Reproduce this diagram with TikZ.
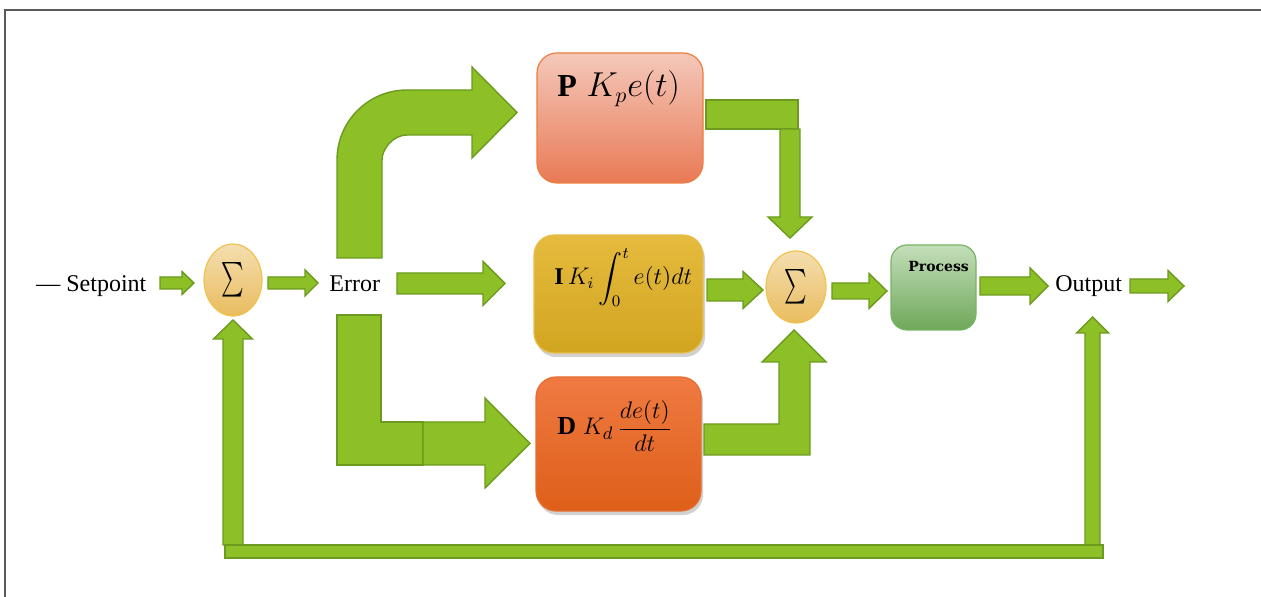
\documentclass[tikz,border=0pt]{standalone}
\usepackage{graphicx}
\usepackage{amsmath}
\usepackage{fontspec}
\setmainfont{Liberation Serif}
\newfontfamily\procfont{DejaVu Serif}
\usetikzlibrary{shapes.geometric,shadows}
\definecolor{gfill}{RGB}{141,192,38}
\definecolor{gline}{RGB}{107,154,31}
\definecolor{ptop}{RGB}{244,200,186}
\definecolor{pbot}{RGB}{233,122,85}
\definecolor{pline}{RGB}{237,125,60}
\definecolor{itop}{RGB}{229,187,62}
\definecolor{ibot}{RGB}{210,165,32}
\definecolor{iline}{RGB}{232,190,80}
\definecolor{dtop}{RGB}{240,122,66}
\definecolor{dbot}{RGB}{221,95,25}
\definecolor{dline}{RGB}{230,110,50}
\definecolor{prtop}{RGB}{196,222,186}
\definecolor{prbot}{RGB}{110,168,90}
\definecolor{prline}{RGB}{120,180,100}
\definecolor{sumtop}{RGB}{244,222,175}
\definecolor{sumbot}{RGB}{233,188,95}
\definecolor{sumline}{RGB}{240,195,80}
\definecolor{framec}{RGB}{90,90,90}
% right-pointing block arrow: x1, xtip, yc, shaft half, head half, head length
\newcommand{\rarr}[6]{\draw[garrow] (#1,#3-#4) -- (#2-#6,#3-#4) -- (#2-#6,#3-#5) -- (#2,#3) -- (#2-#6,#3+#5) -- (#2-#6,#3+#4) -- (#1,#3+#4) -- cycle;}
% up-pointing block arrow: xc, ybottom, ytip, shaft half, head half, head length
\newcommand{\uarr}[6]{\draw[garrow] (#1-#4,#2) -- (#1-#4,#3+#6) -- (#1-#5,#3+#6) -- (#1,#3) -- (#1+#5,#3+#6) -- (#1+#4,#3+#6) -- (#1+#4,#2) -- cycle;}
\newcommand{\sumsign}{{\fontsize{16}{16}\selectfont\scalebox{0.62}[1]{$\textstyle\sum$}}}
\begin{document}
\begin{tikzpicture}[x=0.5pt,y=-0.5pt,
  garrow/.style={fill=gfill,draw=gline,line width=0.7pt,line join=miter},
  blk/.style={rectangle,rounded corners=10pt,line width=0.6pt,inner sep=0pt},
  shad/.style={drop shadow={shadow xshift=1pt,shadow yshift=-2pt,fill=black,opacity=0.18}},
  sumnode/.style={ellipse,inner sep=0pt,top color=sumtop,bottom color=sumbot,draw=sumline,line width=0.6pt},
  lbl/.style={font=\fontsize{12}{14}\selectfont,inner sep=0pt,anchor=base west},
  frm/.style={inner sep=0pt,anchor=base west},
]
\useasboundingbox (0,0) rectangle (1261,597);
% frame
\draw[framec,line width=0.8pt] (1261,10) -- (5,10) -- (5,597);

% blocks
\node[blk,top color=ptop,bottom color=pbot,draw=pline,minimum width=83pt,minimum height=65pt] (P) at (620,118) {};
\node[blk,shad,top color=itop,bottom color=ibot,draw=iline,minimum width=84.5pt,minimum height=59pt] (I) at (618.5,294) {};
\node[blk,shad,top color=dtop,bottom color=dbot,draw=dline,minimum width=82.5pt,minimum height=67pt] (D) at (618.5,444) {};
\node[blk,rounded corners=8pt,top color=prtop,bottom color=prbot,draw=prline,minimum width=42.5pt,minimum height=42.5pt] (Pr) at (933.5,287.5) {};

% summing junctions
\node[sumnode,minimum width=29pt,minimum height=36pt] (S1) at (233,280) {\sumsign};
\node[sumnode,minimum width=30pt,minimum height=36pt] (S2) at (796,287) {\sumsign};

% texts
\node[lbl] (sp) at (36,292) {— Setpoint};
\node[lbl] (err) at (329,292) {Error};
\node[lbl] (out) at (1055,292) {Output};
\node[frm,font=\fontsize{16}{19}\selectfont] (pt) at (557,97) {$\mathbf{P}\;K_p e(t)$};
\node[frm,font=\fontsize{12}{15}\selectfont] (it) at (554,285) {$\mathbf{I}\,K_i\displaystyle\int_0^t e(t)dt$};
\node[frm,font=\fontsize{13}{16}\selectfont] (dt) at (557,435) {$\mathbf{D}\;K_d\,\displaystyle\frac{de(t)}{dt}$};
\node[frm,font=\procfont\bfseries\fontsize{7}{8}\selectfont] (prt) at (908,272) {Process};

% straight arrows
\rarr{160}{194}{283}{6}{11.5}{12}
\rarr{268}{318}{283}{6}{13}{13}
\rarr{397}{505}{283.5}{10.5}{22}{22}
\rarr{707}{763}{290}{11}{18.5}{20}
\rarr{832}{887}{291}{8}{17.5}{18}
\rarr{980}{1048}{286}{9}{18}{18}
\rarr{1130}{1184}{286}{7}{15.5}{16}

% feedback
\uarr{233}{545}{320}{10}{19.5}{19}
\uarr{1092.5}{545}{317}{7.5}{16}{16}
\draw[garrow] (225,545) rectangle (1103,558);

% error -> P (curved)
\draw[garrow] (337,258) -- (337,160) .. controls (337,121.3) and (368.3,90) .. (407,90) -- (472,90) -- (472,67) -- (517,112.5) -- (472,158) -- (472,135) -- (407,135) .. controls (393.2,135) and (382,148.8) .. (382,160) -- (382,258) -- cycle;

% error -> D
\draw[garrow] (337,315) -- (381,315) -- (381,422) -- (423,422) -- (423,465) -- (337,465) -- cycle;
\draw[garrow] (423,422) -- (485,422) -- (485,398) -- (530,443.5) -- (485,488) -- (485,465) -- (423,465) -- cycle;

% P -> S2
\draw[garrow] (706,100) rectangle (798,129);
\draw[garrow] (780,129) -- (800,129) -- (800,217) -- (812,217) -- (790,238) -- (768,217) -- (780,217) -- cycle;

% D -> S2
\draw[garrow] (704,424) -- (779,424) -- (779,362) -- (762,362) -- (794,330) -- (826,362) -- (810,362) -- (810,455) -- (704,455) -- cycle;
\end{tikzpicture}
\end{document}
